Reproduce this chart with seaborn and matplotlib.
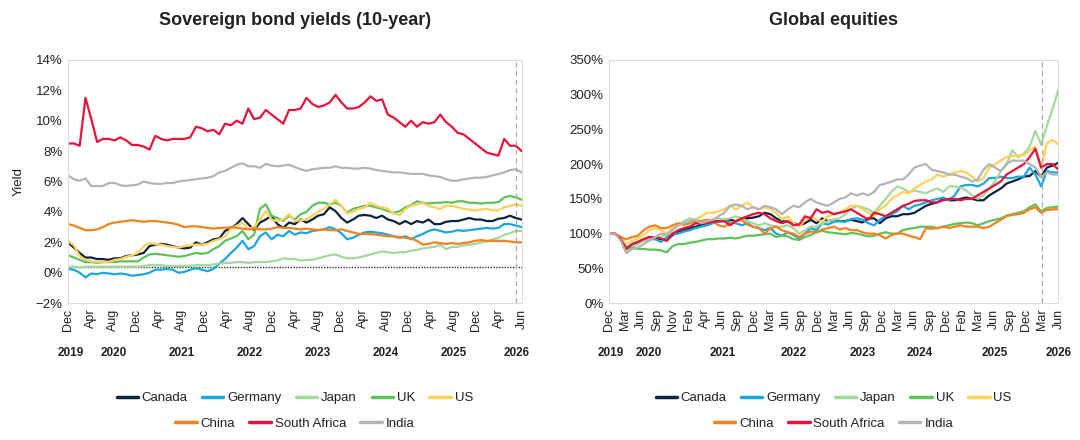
import numpy as np
import pandas as pd
import seaborn as sns
import matplotlib.pyplot as plt
from matplotlib.lines import Line2D
from matplotlib.ticker import FuncFormatter

# monthly points, Dec 2019 .. Jun 2026 (79 values each)
countries = ["Canada", "Germany", "Japan", "UK", "US", "China", "South Africa", "India"]
colors = ["#0c2340", "#1aa7e0", "#a3d99b", "#5dc35a", "#ffd05a", "#f5821f", "#e8123c", "#b4b4b4"]

# ---- 10-year sovereign bond yields (%) ----
yld_canada = [2.0, 1.65, 1.3, 1.0, 1.0, 0.9, 0.9, 0.85, 0.95, 0.95, 1.1, 1.15, 1.2, 1.3, 1.75, 1.85,
              1.9, 1.85, 1.75, 1.65, 1.6, 1.65, 2.0, 1.85, 2.0, 2.2, 2.25, 2.75, 2.9, 3.2, 3.6, 3.2,
              2.8, 3.3, 3.5, 3.75, 3.2, 2.95, 3.3, 3.2, 3.5, 3.3, 3.5, 3.75, 3.85, 4.3, 4.05, 3.6,
              3.3, 3.5, 3.75, 3.8, 3.75, 3.6, 3.75, 3.5, 3.4, 3.2, 3.4, 3.2, 3.4, 3.3, 3.5, 3.2,
              3.2, 3.35, 3.4, 3.4, 3.5, 3.6, 3.5, 3.5, 3.4, 3.4, 3.55, 3.6, 3.75, 3.6, 3.5]
yld_germany = [0.25, 0.2, 0.0, -0.3, -0.05, -0.1, 0.0, -0.05, -0.1, -0.05, -0.1, -0.2, -0.15, -0.1, 0.0, 0.2,
               0.2, 0.25, 0.2, 0.0, 0.05, 0.2, 0.3, 0.2, 0.1, 0.25, 0.6, 0.9, 1.3, 1.65, 2.1, 1.55,
               1.75, 2.4, 2.65, 2.2, 2.5, 2.4, 2.75, 2.5, 2.65, 2.6, 2.75, 2.8, 2.85, 3.0, 2.85, 2.6,
               2.2, 2.3, 2.5, 2.65, 2.7, 2.65, 2.6, 2.5, 2.4, 2.3, 2.4, 2.2, 2.4, 2.55, 2.75, 2.85,
               2.75, 2.65, 2.7, 2.8, 2.75, 2.8, 2.85, 2.9, 2.95, 2.9, 2.95, 3.2, 3.2, 3.1, 3.0]
yld_japan = [0.4, 0.4, 0.35, 0.4, 0.4, 0.4, 0.4, 0.4, 0.4, 0.4, 0.4, 0.4, 0.4, 0.45, 0.5, 0.5,
             0.5, 0.45, 0.45, 0.45, 0.45, 0.45, 0.5, 0.5, 0.5, 0.55, 0.6, 0.65, 0.65, 0.7, 0.7, 0.65,
             0.7, 0.7, 0.7, 0.75, 0.8, 0.95, 0.9, 0.9, 0.8, 0.85, 0.85, 0.95, 1.05, 1.15, 1.2, 1.05,
             0.95, 0.95, 1.0, 1.1, 1.2, 1.3, 1.4, 1.35, 1.3, 1.35, 1.35, 1.45, 1.5, 1.6, 1.65, 1.7,
             1.85, 1.55, 1.7, 1.7, 1.8, 1.85, 1.9, 2.0, 2.05, 2.2, 2.3, 2.5, 2.6, 2.75, 2.75]
yld_uk = [1.15, 1.0, 0.85, 0.7, 0.7, 0.65, 0.7, 0.7, 0.7, 0.75, 0.75, 0.75, 0.75, 1.0, 1.2, 1.25,
          1.2, 1.15, 1.1, 1.05, 1.1, 1.2, 1.3, 1.25, 1.3, 1.55, 1.75, 2.1, 2.25, 2.4, 2.75, 2.2,
          2.5, 4.2, 4.5, 3.75, 3.6, 3.4, 3.75, 3.5, 3.85, 4.0, 4.4, 4.6, 4.6, 4.5, 4.6, 4.4,
          3.95, 4.2, 4.3, 4.4, 4.4, 4.3, 4.2, 4.05, 3.95, 4.05, 4.3, 4.45, 4.7, 4.6, 4.55, 4.6,
          4.6, 4.65, 4.6, 4.7, 4.7, 4.6, 4.6, 4.55, 4.6, 4.6, 4.65, 4.95, 5.05, 4.95, 4.8]
yld_us = [2.1, 1.8, 1.1, 0.85, 0.75, 0.7, 0.7, 0.7, 0.85, 0.9, 1.05, 1.15, 1.3, 1.75, 1.95, 1.9,
          1.85, 1.75, 1.7, 1.65, 1.75, 1.8, 1.85, 1.85, 1.9, 2.1, 2.2, 2.4, 2.9, 3.1, 3.3, 2.9,
          3.0, 3.5, 4.05, 3.5, 3.4, 3.5, 3.85, 3.4, 3.45, 3.5, 3.75, 4.0, 4.2, 4.5, 4.8, 4.4,
          3.9, 4.0, 4.2, 4.3, 4.6, 4.4, 4.3, 4.2, 3.9, 3.8, 4.2, 4.4, 4.5, 4.6, 4.4, 4.3,
          4.2, 4.4, 4.4, 4.3, 4.2, 4.15, 4.1, 4.15, 4.2, 4.1, 4.1, 4.3, 4.4, 4.5, 4.4]
yld_china = [3.2, 3.1, 2.95, 2.8, 2.8, 2.85, 3.0, 3.2, 3.3, 3.35, 3.4, 3.45, 3.4, 3.35, 3.4, 3.4,
             3.35, 3.3, 3.25, 3.15, 3.0, 3.05, 3.05, 3.0, 2.95, 2.9, 2.95, 2.95, 3.0, 2.95, 2.9, 2.85,
             2.9, 2.85, 2.85, 2.9, 3.0, 2.95, 2.95, 2.9, 2.85, 2.9, 2.85, 2.8, 2.85, 2.8, 2.8, 2.85,
             2.75, 2.65, 2.55, 2.55, 2.55, 2.5, 2.45, 2.4, 2.4, 2.35, 2.3, 2.25, 2.1, 1.85, 1.9, 2.0,
             1.95, 1.9, 1.95, 1.9, 1.95, 2.0, 2.1, 2.15, 2.1, 2.1, 2.1, 2.1, 2.05, 2.0, 2.0]
yld_safrica = [8.5, 8.5, 8.35, 11.5, 10.1, 8.6, 8.8, 8.8, 8.7, 8.9, 8.7, 8.4, 8.4, 8.3, 8.1, 9.0,
               8.8, 8.7, 8.8, 8.8, 8.8, 8.9, 9.6, 9.5, 9.3, 9.4, 9.1, 9.8, 9.7, 10.0, 9.8, 10.8,
               10.1, 10.2, 10.7, 10.4, 10.1, 9.8, 10.7, 10.7, 10.8, 11.5, 11.1, 10.9, 11.0, 11.2, 11.7, 11.2,
               10.8, 10.8, 10.9, 11.2, 11.6, 11.3, 11.4, 10.4, 10.2, 9.9, 9.6, 10.0, 9.6, 9.9, 9.8, 9.9,
               10.4, 9.9, 9.6, 9.2, 9.1, 8.8, 8.5, 8.2, 7.9, 7.8, 7.7, 8.8, 8.35, 8.35, 8.0]
yld_india = [6.4, 6.15, 6.05, 6.2, 5.7, 5.7, 5.7, 5.9, 5.9, 5.75, 5.7, 5.75, 5.8, 6.0, 5.9, 5.85,
             5.85, 5.9, 5.9, 6.0, 6.05, 6.1, 6.15, 6.2, 6.25, 6.35, 6.6, 6.7, 6.9, 7.1, 7.2, 7.0,
             7.0, 6.9, 7.15, 7.05, 7.0, 7.05, 7.1, 6.95, 6.8, 6.7, 6.8, 6.85, 6.9, 6.9, 7.0, 6.9,
             6.9, 6.85, 6.85, 6.9, 6.85, 6.75, 6.7, 6.65, 6.6, 6.6, 6.55, 6.5, 6.5, 6.5, 6.4, 6.35,
             6.3, 6.15, 6.05, 6.05, 6.15, 6.2, 6.25, 6.25, 6.3, 6.4, 6.5, 6.6, 6.75, 6.8, 6.6]

# ---- global equities, indexed to 100% at Dec 2019 ----
eq_canada = [100, 100, 95, 78, 85, 88, 92, 95, 93, 92, 90, 98, 102, 105, 108, 110,
             113, 115, 117, 118, 120, 120, 118, 120, 122, 123, 125, 130, 128, 122, 118, 117,
             115, 112, 115, 120, 115, 122, 118, 120, 118, 118, 120, 118, 116, 122, 122, 115,
             122, 125, 125, 128, 128, 130, 135, 140, 143, 145, 150, 148, 148, 150, 152, 150,
             148, 148, 155, 160, 165, 172, 175, 178, 182, 183, 190, 182, 195, 198, 202]
eq_germany = [100, 100, 93, 80, 85, 88, 90, 92, 92, 88, 95, 100, 100, 103, 105, 108,
              110, 112, 115, 117, 118, 116, 115, 112, 115, 110, 108, 105, 108, 100, 97, 102,
              98, 93, 100, 108, 105, 115, 113, 117, 118, 117, 121, 122, 120, 115, 112, 120,
              125, 128, 132, 140, 135, 140, 142, 145, 148, 150, 152, 148, 155, 168, 170, 170,
              168, 172, 180, 180, 182, 180, 180, 182, 182, 195, 185, 168, 190, 188, 188]
eq_japan = [100, 100, 95, 75, 80, 85, 90, 93, 95, 95, 100, 108, 112, 118, 122, 120,
            118, 118, 120, 122, 120, 122, 125, 122, 118, 115, 112, 115, 112, 110, 110, 112,
            108, 100, 105, 110, 110, 115, 118, 120, 122, 128, 135, 140, 138, 135, 130, 140,
            150, 160, 168, 165, 160, 162, 160, 158, 162, 165, 160, 168, 168, 166, 162, 155,
            150, 155, 165, 175, 190, 200, 220, 210, 215, 225, 248, 228, 255, 280, 307]
eq_uk = [100, 100, 95, 80, 80, 78, 78, 77, 77, 76, 73, 82, 85, 85, 87, 88,
         90, 92, 92, 93, 93, 94, 93, 95, 97, 97, 98, 99, 100, 95, 97, 96,
         92, 91, 95, 98, 102, 104, 102, 101, 100, 99, 101, 100, 98, 96, 97, 100,
         102, 100, 100, 105, 107, 108, 110, 110, 110, 108, 110, 112, 114, 115, 116, 115,
         112, 115, 118, 120, 122, 126, 128, 130, 132, 138, 142, 132, 137, 138, 139]
eq_us = [100, 100, 95, 85, 90, 93, 98, 105, 108, 105, 100, 108, 112, 113, 115, 120,
         125, 130, 130, 132, 135, 140, 135, 140, 145, 138, 135, 138, 135, 130, 120, 125,
         115, 110, 120, 125, 120, 118, 125, 128, 130, 135, 140, 140, 135, 130, 125, 135,
         140, 150, 155, 160, 158, 165, 170, 175, 178, 185, 182, 185, 188, 190, 188, 182,
         175, 180, 195, 200, 205, 210, 212, 212, 213, 220, 225, 195, 230, 235, 228]
eq_china = [100, 100, 95, 92, 95, 97, 105, 110, 112, 108, 108, 112, 115, 113, 115, 118,
            118, 120, 118, 112, 110, 115, 118, 120, 113, 110, 108, 100, 108, 110, 105, 102,
            100, 95, 100, 103, 102, 106, 108, 110, 106, 108, 105, 105, 102, 100, 100, 98,
            93, 98, 100, 100, 97, 95, 92, 108, 107, 108, 110, 108, 110, 112, 110, 110,
            110, 108, 110, 115, 120, 125, 127, 128, 130, 135, 138, 130, 134, 135, 135]
eq_safrica = [100, 100, 92, 78, 85, 88, 92, 95, 95, 93, 90, 100, 105, 108, 110, 115,
              115, 115, 117, 118, 118, 112, 118, 122, 125, 128, 130, 128, 122, 118, 115, 118,
              112, 113, 125, 122, 135, 130, 132, 128, 130, 132, 135, 130, 125, 120, 130, 128,
              125, 130, 135, 140, 143, 147, 148, 148, 145, 145, 148, 150, 150, 148, 150, 150,
              155, 160, 165, 170, 175, 185, 190, 195, 200, 210, 222, 195, 200, 200, 192]
eq_india = [100, 100, 90, 72, 78, 80, 85, 90, 95, 100, 98, 105, 112, 115, 118, 120,
            115, 118, 120, 125, 130, 140, 142, 140, 135, 138, 135, 140, 138, 135, 128, 135,
            140, 138, 145, 150, 145, 142, 140, 145, 150, 152, 158, 155, 158, 155, 160, 170,
            172, 175, 178, 178, 185, 195, 198, 200, 192, 190, 188, 185, 185, 182, 180, 175,
            178, 192, 200, 195, 190, 200, 205, 205, 205, 200, 195, 182, 188, 185, 185]

left_months = ["Dec", "Apr", "Aug", "Dec", "Apr", "Aug", "Dec", "Apr", "Aug", "Dec", "Apr",
               "Aug", "Dec", "Apr", "Aug", "Dec", "Apr", "Aug", "Dec", "Apr", "Jun"]
right_months = ["Dec", "Mar", "Jun", "Sep", "Nov", "Feb", "Apr", "Jun", "Sep", "Dec", "Mar",
                "Jun", "Sep", "Dec", "Mar", "Jun", "Sep", "Dec", "Mar", "Jun", "Sep", "Dec",
                "Feb", "Mar", "Jun", "Sep", "Dec", "Mar", "Jun"]
years = ["2019", "2020", "2021", "2022", "2023", "2024", "2025", "2026"]
left_year_pos = [0.006, 0.1, 0.25, 0.4, 0.55, 0.7, 0.85, 0.99]
right_year_pos = [0.004, 0.089, 0.252, 0.41, 0.565, 0.692, 0.858, 1.0]


def to_long(series: list[list[float]]) -> pd.DataFrame:
    frames = []
    for name, vals in zip(countries, series):
        frames.append(pd.DataFrame({"t": np.arange(len(vals)), "value": vals, "country": name}))
    return pd.concat(frames, ignore_index=True)


yields = to_long([yld_canada, yld_germany, yld_japan, yld_uk, yld_us, yld_china, yld_safrica, yld_india])
equities = to_long([eq_canada, eq_germany, eq_japan, eq_uk, eq_us, eq_china, eq_safrica, eq_india])

sns.set_theme(style="white")
plt.rcParams["font.family"] = ["Liberation Sans", "DejaVu Sans"]
text_col = "#222222"
palette = dict(zip(countries, colors))

fig = plt.figure(figsize=(10.8, 4.4), dpi=100)
ax1 = fig.add_axes([0.063, 0.311, 0.42, 0.553])
ax2 = fig.add_axes([0.564, 0.311, 0.416, 0.553])


def style_axis(ax, df, months, year_pos, title):
    sns.lineplot(data=df, x="t", y="value", hue="country", palette=palette,
                 hue_order=countries, linewidth=1.6, legend=False, ax=ax)
    n = df["t"].max()
    ax.set_xlim(0, n)
    ax.set_xticks(np.linspace(0, n, len(months)))
    ax.set_xticklabels(months, rotation=90, fontsize=9, color=text_col)
    ax.tick_params(axis="both", length=0, pad=4)
    ax.tick_params(axis="y", labelsize=9.5, labelcolor=text_col)
    ax.set_xlabel("")
    for sp in ax.spines.values():
        sp.set_color("#dcdcdc")
        sp.set_linewidth(0.8)
    ax.set_title(title, fontsize=13, fontweight="bold", color=text_col, pad=25)
    for yr, xp in zip(years, year_pos):
        ax.text(xp, -0.205, yr, transform=ax.transAxes, ha="center", va="center",
                fontsize=8.5, fontweight="bold", color=text_col)
    h1 = [Line2D([], [], color=palette[c], lw=2.5) for c in countries[:5]]
    h2 = [Line2D([], [], color=palette[c], lw=2.5) for c in countries[5:]]
    kw = dict(frameon=False, fontsize=9.5, handlelength=1.6, handletextpad=0.3,
              columnspacing=1.1, labelcolor=text_col, loc="center")
    leg1 = ax.legend(h1, countries[:5], ncol=5, bbox_to_anchor=(0.5, -0.39), **kw)
    ax.add_artist(leg1)
    ax.legend(h2, countries[5:], ncol=3, bbox_to_anchor=(0.5, -0.495), **kw)


style_axis(ax1, yields, left_months, left_year_pos, "Sovereign bond yields (10-year)")
ax1.set_ylim(-2, 14)
ax1.set_yticks(np.arange(-2, 15, 2))
ax1.yaxis.set_major_formatter(FuncFormatter(lambda v, p: f"{v:.0f}%".replace("-", "\u2212")))
ax1.set_ylabel("Yield", fontsize=9.5, color=text_col, labelpad=8)
ax1.axhline(0.4, color="#333333", lw=1.0, ls=(0, (1, 1)), zorder=1)
ax1.axvline(77, color="#aaaaaa", lw=0.9, ls=(0, (4, 3)))

style_axis(ax2, equities, right_months, right_year_pos, "Global equities")
ax2.set_ylim(0, 350)
ax2.set_yticks(np.arange(0, 351, 50))
ax2.yaxis.set_major_formatter(FuncFormatter(lambda v, p: f"{v:.0f}%"))
ax2.set_ylabel("")
ax2.axvline(78 * 27 / 28, color="#aaaaaa", lw=0.9, ls=(0, (4, 3)))

fig.savefig("out.png", dpi=100, facecolor="white")
